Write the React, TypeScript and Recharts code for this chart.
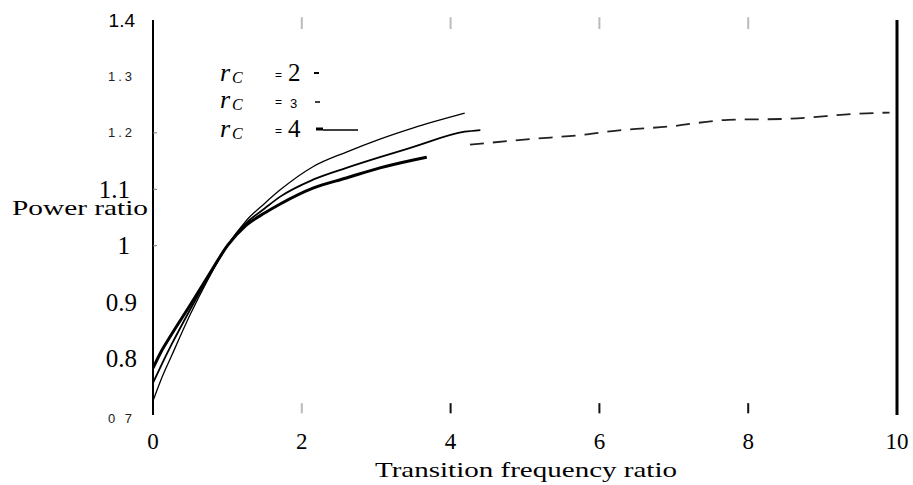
import { LineChart, Line, XAxis, YAxis, ReferenceLine } from "recharts";

const X_TICKS = [0, 2, 4, 6, 8, 10];
const Y_TICKS = [0.7, 0.8, 0.9, 1.0, 1.1, 1.2, 1.3, 1.4];
const Y_TICK_LABELS = ["0 7", "0.8", "0.9", "1", "1.1", "1.2", "1.3", "1.4"];
const INNER_TICKS = [2, 4, 6, 8];

// rC = 2 (thin, upper)
const RC2_X = [0, 0.1, 0.25, 0.5, 0.75, 1, 1.25, 1.5, 1.71, 2.15, 2.6, 3.05, 3.5, 4.19];
const RC2_Y = [0.725, 0.76, 0.805, 0.878, 0.943, 1.0, 1.044, 1.075, 1.099, 1.14, 1.166, 1.189, 1.209, 1.235];
// rC = 3 (middle)
const RC3_X = [0, 0.1, 0.25, 0.5, 0.75, 1, 1.25, 1.5, 1.71, 2.15, 2.6, 3.05, 3.5, 4.19, 4.4];
const RC3_Y = [0.757, 0.785, 0.825, 0.887, 0.946, 1.0, 1.04, 1.066, 1.087, 1.117, 1.138, 1.157, 1.175, 1.202, 1.205];
// rC = 4 (thick, lower)
const RC4_X = [0, 0.1, 0.25, 0.5, 0.75, 1, 1.25, 1.5, 1.71, 2.15, 2.6, 3.05, 3.5, 3.68];
const RC4_Y = [0.783, 0.81, 0.843, 0.895, 0.948, 1.0, 1.036, 1.058, 1.074, 1.102, 1.12, 1.138, 1.152, 1.157];
// broken dashed continuation
const TAIL_X = [4.26, 5.07, 5.74, 6.3, 6.92, 7.73, 8.56, 9.48, 9.9];
const TAIL_Y = [1.179, 1.189, 1.196, 1.205, 1.211, 1.223, 1.225, 1.234, 1.236];

const pts = (xs: number[], ys: number[]) => xs.map((x, i) => ({ x, y: ys[i] }));

const serif = "Times New Roman, Liberation Serif, Tinos, serif";
const sans = "Arial, Liberation Sans, Arimo, sans-serif";

function YTick({ x, y, payload }: any) {
  const i = Y_TICKS.indexOf(payload.value);
  const label = Y_TICK_LABELS[i];
  const v = payload.value;
  let font = serif, size = 25, end = x - 16, fill = "#000", spacing = 0;
  if (v === 0.7 || v === 1.2 || v === 1.3) {
    font = sans; size = 13; end = x - 18; fill = "#222"; spacing = 3;
  } else if (v === 1.4) {
    font = sans; size = 19; end = x - 18;
  } else if (v === 1.1 || v === 1.0) {
    end = x - 23;
  }
  const dy = v === 0.7 ? 3 : 0;
  return (
    <g>
      {(v === 1.0 || v === 1.1 || v === 1.2) && (
        <line x1={x} x2={x + 4} y1={y} y2={y} stroke="#777" strokeWidth={1} />
      )}
      <text x={end} y={y + dy} textAnchor="end" dominantBaseline="central"
        fontFamily={font} fontSize={size} fill={fill} letterSpacing={spacing}>
        {label}
      </text>
    </g>
  );
}

function XTick({ x, y, payload }: any) {
  return (
    <text x={x} y={y + 34} textAnchor="middle" fontFamily={serif} fontSize={23} fill="#000">
      {payload.value}
    </text>
  );
}

export default function App() {
  return (
    <div style={{ position: "absolute", left: 0, top: 0, width: 913, height: 485, background: "#fff" }}>
      <LineChart width={913} height={485} margin={{ top: 20, right: 0, bottom: 0, left: 0 }}>
        <XAxis
          type="number"
          dataKey="x"
          domain={[0, 10]}
          ticks={X_TICKS}
          axisLine={false}
          tickLine={false}
          tickSize={0}
          tickMargin={0}
          height={70}
          tick={<XTick />}
          allowDataOverflow
        />
        <YAxis
          type="number"
          domain={[0.7, 1.4]}
          ticks={Y_TICKS}
          width={153}
          axisLine={{ stroke: "#000", strokeWidth: 2 }}
          tickLine={false}
          tickSize={0}
          tickMargin={0}
          tick={<YTick />}
          allowDataOverflow
        />
        <YAxis
          yAxisId="right"
          orientation="right"
          type="number"
          domain={[0.7, 1.4]}
          width={16}
          tick={false}
          tickLine={false}
          axisLine={{ stroke: "#000", strokeWidth: 3 }}
        />
        {INNER_TICKS.map((t) => (
          <ReferenceLine key={"top" + t} segment={[{ x: t, y: 1.405 }, { x: t, y: 1.384 }]}
            stroke="#bbb" strokeWidth={2} ifOverflow="visible" />
        ))}
        {INNER_TICKS.map((t) => (
          <ReferenceLine key={"bot" + t} segment={[{ x: t, y: 0.703 }, { x: t, y: 0.721 }]}
            stroke={t === 2 ? "#bbb" : "#111"} strokeWidth={2} ifOverflow="visible" />
        ))}
        <Line data={pts(RC2_X, RC2_Y)} dataKey="y" type="monotone" stroke="#000" strokeWidth={1.3}
          dot={false} isAnimationActive={false} />
        <Line data={pts(RC3_X, RC3_Y)} dataKey="y" type="monotone" stroke="#000" strokeWidth={1.8}
          dot={false} isAnimationActive={false} />
        <Line data={pts(RC4_X, RC4_Y)} dataKey="y" type="monotone" stroke="#000" strokeWidth={3}
          dot={false} isAnimationActive={false} />
        <Line data={pts(TAIL_X, TAIL_Y)} dataKey="y" type="monotone" stroke="#222" strokeWidth={1.8}
          strokeDasharray="14 9" dot={false} isAnimationActive={false} />
      </LineChart>
      <svg width={913} height={485} style={{ position: "absolute", left: 0, top: 0, pointerEvents: "none" }}>
        <text x={12} y={215} fontFamily={serif} fontSize={21} textLength={136} lengthAdjust="spacingAndGlyphs">
          Power ratio
        </text>
        <text x={375} y={477} fontFamily={serif} fontSize={21} textLength={302} lengthAdjust="spacingAndGlyphs">
          Transition frequency ratio
        </text>
        {[
          { n: "2", base: 81, big: true },
          { n: "3", base: 108, big: false },
          { n: "4", base: 137, big: true },
        ].map((r) => (
          <g key={r.n}>
            <text x={220} y={r.base} fontFamily={serif} fontStyle="italic" fontSize={26}>r</text>
            <text x={232} y={r.base + 2} fontFamily={serif} fontStyle="italic" fontSize={16}>C</text>
            <text x={275} y={r.base - 2} fontFamily={sans} fontSize={12}>=</text>
            {r.big ? (
              <text x={288} y={r.base} fontFamily={serif} fontSize={25}>{r.n}</text>
            ) : (
              <text x={290} y={r.base} fontFamily={sans} fontSize={13}>{r.n}</text>
            )}
          </g>
        ))}
        <line x1={314} x2={319} y1={73} y2={73} stroke="#000" strokeWidth={2} />
        <line x1={315} x2={320} y1={102} y2={102} stroke="#000" strokeWidth={1.5} />
        <line x1={316} x2={323} y1={129} y2={129} stroke="#000" strokeWidth={3} />
        <line x1={323} x2={358} y1={130} y2={130} stroke="#000" strokeWidth={1.5} />
      </svg>
    </div>
  );
}
